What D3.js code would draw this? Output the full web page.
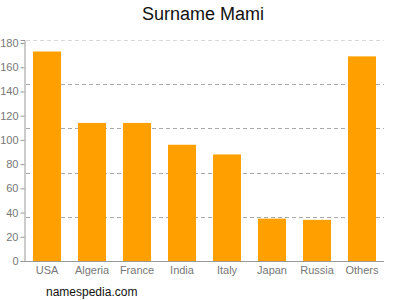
<!DOCTYPE html>
<html>
<head>
<meta charset="utf-8">
<script src="https://cdn.jsdelivr.net/npm/d3@7"></script>
<style>
    body { margin: 0; background: #fff; }
    svg { font-family: "Liberation Sans", Arial, sans-serif; }
</style>
</head>
<body>
<svg id="chart" width="400" height="300"></svg>
<script>
const countries = ['USA', 'Algeria', 'France', 'India', 'Italy', 'Japan', 'Russia', 'Others'];
const counts = [173, 114, 114, 96, 88, 35, 34, 169];
const yTicks = [0, 20, 40, 60, 80, 100, 120, 140, 160, 180];

const margin = { top: 40, right: 16, bottom: 39, left: 24.5 };
const width = 400, height = 300;

const svg = d3.select('#chart');

const x = d3.scaleBand()
    .domain(countries)
    .range([margin.left, 384.5])
    .paddingInner(17 / 45)
    .paddingOuter(17 / 90);

const y = d3.scaleLinear()
    .domain([0, 182.5])
    .range([height - margin.bottom, margin.top]);

// Dashed grid: 5 even divisions of the plot height
const gridY = d3.range(1, 6).map(i => y.range()[0] - i * (y.range()[0] - y.range()[1]) / 5);
svg.append('g')
    .selectAll('line')
    .data(gridY)
    .join('line')
    .attr('x1', 26)
    .attr('x2', 384)
    .attr('y1', d => Math.round(d) + 0.5)
    .attr('y2', d => Math.round(d) + 0.5)
    .attr('stroke', (d, i) => i === 4 ? '#d8d8d8' : '#aaa')
    .attr('stroke-dasharray', '4,3');

// Bars
svg.append('g')
    .selectAll('rect')
    .data(countries)
    .join('rect')
    .attr('x', d => x(d))
    .attr('width', x.bandwidth())
    .attr('y', (d, i) => y(counts[i]))
    .attr('height', (d, i) => y(0) - y(counts[i]))
    .attr('fill', '#ffa000');

// Y axis
const yAxis = svg.append('g')
    .attr('transform', `translate(${margin.left},0)`)
    .call(d3.axisLeft(y).tickValues(yTicks).tickSize(4).tickPadding(2));
yAxis.select('.domain').attr('stroke', '#999');
yAxis.selectAll('.tick line').attr('stroke', '#999');
yAxis.selectAll('text').attr('fill', '#777').attr('font-size', 11);

// X axis
const xAxis = svg.append('g')
    .attr('transform', `translate(0,${y(0)})`)
    .call(d3.axisBottom(x).tickSize(0).tickPadding(5));
xAxis.select('.domain').attr('stroke', '#999').attr('d', `M${margin.left},0.5H384`);
xAxis.selectAll('text').attr('fill', '#777').attr('font-size', 11);

// Title
svg.append('text')
    .attr('x', 203)
    .attr('y', 20)
    .attr('text-anchor', 'middle')
    .attr('font-size', 18)
    .attr('fill', '#111')
    .text('Surname Mami');

// Source
svg.append('text')
    .attr('x', 46)
    .attr('y', 296)
    .attr('font-size', 12)
    .attr('fill', '#111')
    .text('namespedia.com');
</script>
</body>
</html>
